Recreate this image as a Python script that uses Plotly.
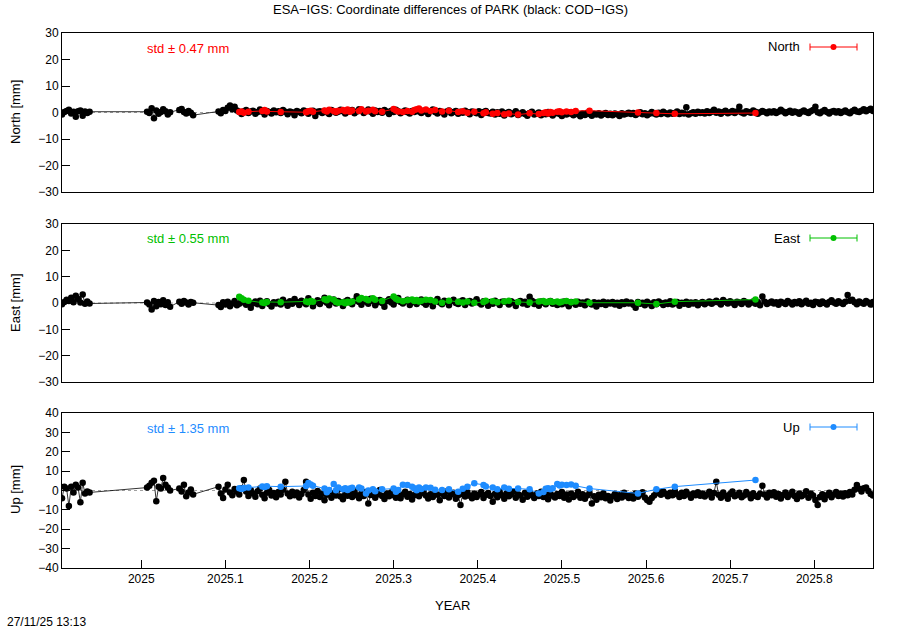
import plotly.graph_objects as go

# ---------------- data ----------------
# day-of-year lists (black: COD-IGS, coloured: ESA-IGS)
BLACK_DOY_2024 = list(range(332, 345))
BLACK_DOY_2025 = list(range(3, 14)) + list(range(17, 24)) + list(range(34, 319))
COLOR_DOY_2025 = [43, 44, 45, 47, 53, 54, 55, 61, 72, 73, 74, 75, 80, 81, 82, 84, 85, 86, 88, 89,
                  90, 91, 92, 95, 96, 98, 99, 101, 102, 105, 110, 111, 112, 114, 116, 118, 119, 120,
                  121, 122, 124, 126, 128, 131, 134, 138, 140, 142, 145, 149, 150, 153, 155, 158,
                  160, 164, 169, 173, 175, 176, 177, 178, 179, 181, 182, 183, 185, 187, 189, 195,
                  216, 224, 232, 267]

# ---- North, black ----
north_A = [-0.8, 0.2, 0.6, 1.0, -0.4, 0.3, -1.6, 0.5, 0.8, -1.2, 0.4, -0.2, 0.3]
north_B1 = [0.3, -0.2, 1.6, -2.2, 0.8, -0.5, 0.2, 1.2, 0.5, -0.8, 0.1]
north_B2 = [0.9, 1.3, 0.2, -0.4, 0.6, -0.1, -1.0]
north_feb = [0.4, -0.3, 0.9, 0.6, 1.8, 2.6, 1.2, 2.2, 0.8, 0.3, -0.6, 0.5, 0.9, -0.2, 0.4, 0.7, -0.5, 0.2, 1.1, 0.3, -0.8, 0.6, 0.2, -0.4, 0.8, 0.1]
north_mar = [0.5, -0.2, 0.9, 0.3, -0.7, 0.4, 0.1, -1.0, 0.6, 0.2, -0.3, 0.8, 0.4, -0.5, 0.2, 0.7, -1.3, 0.3, 0.5, -0.2, 0.6, 0.1, -0.6, 0.9, 0.4, -0.1, 0.3, 1.0, 0.5, -0.4, 0.2]
north_apr = [0.6, 0.9, -0.3, 0.4, 1.2, 0.7, -0.2, 0.5, 1.1, 0.3, -0.5, 0.8, 0.2, 0.6, -0.1, 0.9, 0.4, -0.6, 0.7, 0.2, 1.0, 0.5, -0.3, 0.3, 0.8, 0.1, -0.4, 0.6, 0.2, 0.9]
north_may = [0.4, -0.2, 0.7, 0.3, -0.6, 0.5, 1.1, 0.2, -0.4, 0.6, 0.1, -0.8, 0.4, 0.8, -0.3, 0.2, 0.6, -0.5, 0.3, -0.1, 0.7, 0.2, -0.7, 0.4, 0.1, -0.3, 0.5, -0.9, 0.2, 0.6, -0.2]
north_jun = [-0.4, 0.3, -0.8, 0.1, -0.5, 0.4, -1.1, -0.2, 0.2, -0.7, -0.3, 0.5, -0.9, -0.4, 0.1, -0.6, -1.2, -0.2, 0.3, -0.8, -0.5, 0.0, -1.0, -0.3, -0.7, 0.2, -0.5, -1.1, -0.4, -0.1]
north_jul = [-0.6, -1.3, -0.3, -0.8, 0.1, -0.5, -1.0, -0.2, -0.7, -1.4, -0.4, -0.9, -0.1, -0.6, -1.2, -0.5, -0.8, -0.3, -1.1, -0.6, -0.2, -0.9, -0.5, -1.0, -0.4, -0.7, -1.3, -0.3, -0.8, -0.5, -0.1]
north_aug = [-0.6, -0.2, -0.9, -0.4, 0.1, -0.7, -0.3, -1.0, -0.5, 0.2, -0.4, -0.8, -0.1, -0.6, 0.3, -0.3, -0.7, 0.0, -0.5, -0.2, 0.4, -0.6, -0.1, -0.4, 2.0, -0.8, -0.3, 0.1, -0.5, 0.3, -0.2]
north_sep = [0.1, -0.4, 0.5, -0.2, 0.3, 1.0, -0.1, 0.4, -0.5, 0.2, 0.7, -0.3, 0.1, 0.6, -0.2, 0.4, 2.2, 0.0, -0.4, 0.5, 0.2, -0.1, 0.8, 0.3, -0.5, 0.1, 0.6, 0.2, -0.3, 0.4]
north_oct = [0.0, 0.5, -0.2, 0.3, 1.0, 0.4, -0.3, 0.2, 0.7, -0.1, 0.4, 0.1, -0.5, 0.3, 0.8, 0.2, -0.2, 0.5, 0.9, 2.2, 0.1, -0.3, 0.4, 0.9, 0.2, -0.4, 0.3, 0.6, 0.0, 0.5, -0.2]
north_nov = [0.3, 0.8, 0.1, -0.3, 0.5, 1.0, 0.4, 0.2, 0.7, 1.2, 0.5, 0.9, 1.4, 0.6]

# ---- East, black ----
east_A = [-0.5, 0.4, 1.2, 0.8, 2.0, 0.3, 2.8, 1.5, 0.2, 3.2, -0.3, 0.6, -0.2]
east_B1 = [0.2, -0.6, -2.5, 0.8, -1.2, 0.4, -0.5, 1.0, -0.8, 0.3, -1.4]
east_B2 = [0.5, -0.3, 0.8, 0.2, -0.6, 0.4, 0.1]
east_feb = [-0.8, -1.5, 0.3, -0.6, 0.5, -1.2, -0.2, 0.8, -0.9, -0.3, 1.0, 0.2, -0.7, 0.4, -1.8, -0.1, 0.6, -0.5, 0.9, -1.1, 0.1, 0.7, -0.4, -1.3, 0.3, -0.2]
east_mar = [0.5, -0.6, 1.2, 0.1, -1.0, 0.7, -0.3, 1.5, 0.4, -0.8, 0.9, 0.2, -0.5, 1.8, 0.6, -1.2, 0.3, 1.0, -0.4, 0.7, 2.0, 0.1, -0.9, 0.5, 1.3, -0.2, 0.8, 0.3, -1.1, 0.6, 1.1]
east_apr = [0.2, -0.5, 0.9, 2.6, 0.4, -0.7, 1.2, 0.5, -0.3, 1.6, 0.8, -0.9, 0.3, 1.1, 0.0, -1.4, 0.7, 1.4, 0.2, -0.6, 0.9, 1.9, 0.4, -0.2, 0.6, 1.2, -0.8, 0.3, 0.8, -0.4]
east_may = [0.5, 1.3, 0.1, -0.7, 0.8, 0.3, -1.2, 0.6, 1.5, 0.2, -0.5, 0.9, 0.4, -0.9, 0.7, 1.2, 0.0, -0.4, 0.6, 1.0, -0.8, 0.3, 0.8, -0.2, 0.5, 1.4, 0.1, -0.6, 0.7, 0.2, -1.0]
east_jun = [0.4, -0.3, 0.9, 0.2, -0.8, 0.5, 0.6, 0.3, -0.6, 0.7, 0.1, -1.1, 0.4, 0.8, -0.2, 0.5, -0.7, 2.4, 0.9, -0.4, 0.3, -1.0, 0.6, 0.1, -0.5, 0.4, 0.8, -0.3, 0.2, -0.8]
east_jul = [0.3, -0.5, 0.6, -0.2, -1.2, 0.4, 0.0, -0.7, 0.5, -0.3, 0.2, -0.9, 0.6, -0.1, -0.6, 0.3, -1.3, 0.1, -0.4, 0.5, -0.8, 0.2, -0.2, 0.4, -0.6, 0.1, -1.0, 0.3, -0.4, 0.6, -0.2]
east_aug = [0.2, -0.7, -1.8, 0.4, -0.3, 0.1, -0.9, 0.5, -0.2, -1.1, 0.3, -0.5, 0.6, 0.0, -0.8, 0.2, -0.4, 0.7, -0.6, -0.1, 0.4, -1.0, 0.1, -0.3, 0.5, -0.7, 0.2, -0.2, 0.3, -0.9, 0.0]
east_sep = [0.4, -0.5, 0.1, 0.6, -0.3, 0.3, 0.9, 0.2, -0.6, 1.1, 0.4, -0.2, 0.7, 0.1, -0.8, 0.5, 0.2, -0.4, 0.8, 0.3, -0.6, 0.1, 0.6, -0.3, 0.4, -0.9, 2.5, 0.5, -0.4, 0.1]
east_oct = [0.6, -0.2, 0.3, -0.7, 0.5, 0.1, -0.4, 0.8, 0.2, -0.6, 0.4, -0.1, 0.7, -0.5, 0.2, 0.9, -0.3, 0.1, -0.8, 0.5, 0.3, -0.4, 0.6, 0.0, -0.6, 0.4, 1.0, 0.2, -0.3, 0.7, 0.1]
east_nov = [-0.4, 0.5, 3.0, 0.9, 1.2, 0.3, -0.5, 0.6, 0.1, -0.3, 0.8, 0.2, -0.6, 0.4]

# ---- Up, black ----
up_A = [-4.0, 2.0, 1.0, -8.0, 2.0, -1.0, 3.0, 1.5, -6.0, 4.0, -1.5, -0.5, -1.0]
up_B1 = [1.5, 2.5, 4.0, 5.0, -5.5, 2.0, 1.0, 6.5, 3.0, 1.5, 0.0]
up_B2 = [1.0, -0.5, 3.0, -3.0, -1.0, 0.5, -2.0]
up_feb = [2.0, -1.5, -3.9, 0.5, 3.0, -1.0, -2.4, 0.8, -0.6, -2.0, 1.2, 5.4, -0.5, -2.8, 0.3, -1.6, -3.2, -0.4, 1.0, -2.2, -4.0, -1.1, 0.2, -2.6, -1.3, -3.5]
up_mar = [-0.8, -2.1, 0.4, 4.5, -1.5, -3.0, -0.6, -2.4, -1.0, -3.6, -1.8, 0.2, 4.5, -2.0, -4.2, -1.2, -2.8, -0.3, -3.3, -1.7, -5.0, -2.2, -0.7, -3.8, -1.4, -2.6, 0.5, -3.1, -4.5, -1.9, -2.7]
up_apr = [-1.2, -3.4, -0.4, -2.5, -4.0, -1.6, -2.9, -0.8, -6.7, -2.3, -1.0, -3.7, -2.0, 0.3, -2.8, -4.4, -1.5, -3.0, -0.9, -2.4, -3.8, -1.3, -4.0, -2.1, -0.6, -3.2, -1.8, -4.6, -2.5, -1.1]
up_may = [-3.0, -1.4, -0.2, -2.6, -4.1, -1.9, -3.3, -0.7, -2.2, -5.0, -1.6, -2.9, -0.5, -3.6, -2.0, -1.2, -4.3, -2.4, -7.5, -1.8, -3.1, -0.9, -2.7, -4.0, -1.5, -3.4, -2.1, -0.8, -3.9, -2.3, -1.3]
up_jun = [-2.8, -5.8, -1.7, -3.5, -0.6, -2.5, -4.2, -1.4, -3.0, -2.0, -0.4, -3.7, -1.9, -2.6, -4.8, -1.2, -3.2, -0.9, -2.4, -3.9, -1.6, -2.9, -0.7, -3.4, -2.2, -4.5, -1.5, -2.7, -3.6, -1.8]
up_jul = [-2.9, -0.8, -3.8, -2.1, -4.6, -1.5, -3.3, -2.4, -0.6, -3.7, -1.9, -4.2, -2.6, -1.3, -6.7, -3.0, -4.8, -2.2, -3.5, -1.4, -4.0, -2.8, -5.2, -3.1, -1.8, -4.4, -2.5, -3.6, -1.2, -2.9, -3.9]
up_aug = [-2.3, -4.1, -1.6, -3.2, -2.0, -0.9, -3.6, -4.9, -5.8, -3.9, -2.6, -1.4, -0.8, -2.2, -0.5, -1.7, -3.0, -1.1, -2.5, -0.3, -1.9, -3.4, -1.2, -2.8, -0.6, -2.1, -3.7, -1.5, -2.4, -0.9, -2.7]
up_sep = [-1.6, -3.1, -2.0, -0.7, -3.6, -1.3, 4.5, -2.2, -3.8, -1.0, -2.7, -4.2, -1.8, -0.5, -3.0, -2.3, -1.1, -3.5, -2.6, -0.8, -2.0, -4.0, -1.4, -2.9, -3.3, -1.7, 2.5, -2.1, -3.6, -1.2]
up_oct = [-2.5, -0.9, -3.2, -1.8, -4.1, -2.3, -1.0, -3.4, -2.0, -0.6, -2.8, -4.4, -1.5, -3.0, -2.2, -0.4, -3.7, -1.6, -2.6, -4.9, -7.5, -3.3, -1.9, -4.5, -2.4, -1.2, -3.5, -2.0, -0.8, -2.9, -1.6]
up_nov = [-3.1, -1.4, -2.5, -0.8, -2.0, 0.4, 2.8, 0.9, -0.5, 1.2, 1.5, -0.3, -1.8, -2.6]

# ---- coloured (ESA-IGS) ----
north_esa = [0.2, 0.4, -0.1, 0.3, 0.6, 0.9, 0.4, 0.2, 0.1, 0.5, 0.7, 0.3, 0.8, 0.4, 1.0, 0.6, 0.2, 0.7,
             0.9, 0.5, 1.1, 0.3, 0.8, 0.6, 1.2, 0.4, 0.7, 1.0, 0.5, 0.3, 1.3, 0.8, 0.4, 0.2, 0.6, 0.3,
             0.9, 1.2, 1.5, 0.8, 1.1, 0.6, 0.9, 0.4, 0.7, 0.2, 0.5, -0.1, 0.3, -0.3, 0.1, -0.5, -0.2,
             -0.7, -0.4, -0.8, -0.3, -0.6, -0.2, 0.1, -0.4, 0.2, -0.1, 0.3, 0.5, 0.1, 0.4, 0.2, 0.6,
             0.7, 0.0, -0.2, -0.5, -0.2]
east_esa = [2.4, 1.8, 1.2, 0.9, 0.2, 0.0, 0.4, 0.3, 0.6, 0.3, 0.8, 0.5, 1.4, 1.0, 1.7, 1.2, 0.4, 0.1,
            0.3, -0.1, 0.5, 0.2, 0.6, 1.3, 1.9, 1.5, 1.0, 1.8, 1.2, 0.8, 2.5, 1.6, 1.1, 0.7, 1.0, 1.3,
            0.8, 1.1, 0.6, 0.9, 1.2, 1.1, 0.6, 0.1, 0.9, 0.5, 0.2, 0.6, 0.1, 0.4, 0.9, 0.7, 0.3, 0.6,
            0.9, 0.4, 0.2, 0.6, 0.8, 0.3, 0.5, 0.7, 0.4, 0.6, 0.2, 0.5, 0.8, 0.3, 0.6, 0.1, 0.1,
            -0.4, 0.5, 1.3]
up_esa = [1.1, 0.8, 1.3, 1.5, 2.1, 1.8, 2.2, 2.0, 2.3, 3.9, 3.1, 2.5, 1.0, -0.9, 0.2, 3.3, 0.1, 1.5,
          0.6, 1.2, 0.3, 1.0, 1.4, 1.6, 1.0, -1.5, 0.0, 0.6, -0.4, 0.6, 1.0, -0.6, 0.3, 3.0, 2.8, 2.0,
          1.2, 0.1, 1.5, 0.8, 1.6, 1.4, 0.4, 0.2, 0.6, -0.7, 0.9, 2.0, 3.7, 2.9, 2.1, 1.6, 0.6, 1.5,
          0.9, 1.0, 0.6, -1.6, -0.8, 0.9, 1.2, 0.7, 1.1, 3.3, 2.6, 3.0, 2.8, 3.1, 2.4, 1.0, -1.5,
          0.6, 2.0, 5.4]

STD_TEXT = ["std \u00b1 0.47 mm", "std \u00b1 0.55 mm", "std \u00b1 1.35 mm"]
COMPONENTS = ["North", "East", "Up"]
Y_TICKS = [[-30, -20, -10, 0, 10, 20, 30], [-30, -20, -10, 0, 10, 20, 30],
           [-40, -30, -20, -10, 0, 10, 20, 30, 40]]
X_TICKS = [2025.0, 2025.1, 2025.2, 2025.3, 2025.4, 2025.5, 2025.6, 2025.7, 2025.8]
X_TICK_TEXT = ["2025", "2025.1", "2025.2", "2025.3", "2025.4", "2025.5", "2025.6", "2025.7", "2025.8"]

# ---------------- assemble ----------------
def decyear(year, doy):
    n = 366 if year % 4 == 0 else 365
    return year + (doy - 0.5) / n

x_black = [decyear(2024, d) for d in BLACK_DOY_2024] + [decyear(2025, d) for d in BLACK_DOY_2025]
x_esa = [decyear(2025, d) for d in COLOR_DOY_2025]

def cat(*parts):
    out = []
    for p in parts:
        out += p
    return out

months = ["feb", "mar", "apr", "may", "jun", "jul", "aug", "sep", "oct", "nov"]
g = globals()
black = {}
for comp in ["north", "east", "up"]:
    black[comp] = cat(g[comp + "_A"], g[comp + "_B1"], g[comp + "_B2"], *[g[comp + "_" + m] for m in months])
    assert len(black[comp]) == len(x_black), (comp, len(black[comp]), len(x_black))
esa = {"north": north_esa, "east": east_esa, "up": up_esa}
for k, v in esa.items():
    assert len(v) == len(x_esa), (k, len(v), len(x_esa))

COLORS = ["#ff0000", "#00c000", "#1e8cff"]

# pixel geometry helpers (plot area 62..873 x 33..568)
L, R, T, B = 62, 873, 33, 568
def px(p):
    return (p - L) / (R - L)
def py(p):
    return (B - p) / (B - T)

domains = [[py(192), py(33)], [py(382), py(224)], [py(568), py(413)]]
yranges = [[-30, 30], [-30, 30], [-40, 40]]

fig = go.Figure()
keys = ["north", "east", "up"]
for i, k in enumerate(keys):
    xa = "x" if i == 0 else f"x{i+1}"
    ya = "y" if i == 0 else f"y{i+1}"
    fig.add_trace(go.Scatter(x=x_black, y=black[k], mode="lines+markers", xaxis=xa, yaxis=ya,
                             line=dict(color="black", width=0.8),
                             marker=dict(color="black", size=6.5), showlegend=False, hoverinfo="skip"))
    fig.add_trace(go.Scatter(x=x_esa, y=esa[k], mode="lines+markers", xaxis=xa, yaxis=ya,
                             line=dict(color=COLORS[i], width=1),
                             marker=dict(color=COLORS[i], size=6.5), showlegend=False, hoverinfo="skip"))

xrange = [min(x_black), max(x_black)]
font = "Liberation Sans, Arial, Helvetica, sans-serif"
axis_common = dict(showline=True, linecolor="black", linewidth=1, mirror=True, ticks="inside",
                   ticklen=8, tickcolor="black", showgrid=False, zeroline=False,
                   tickfont=dict(size=12, color="black", family=font))
layout = dict(width=900, height=630, margin=dict(l=L, r=900 - R, t=T, b=630 - B),
              plot_bgcolor="white", paper_bgcolor="white", showlegend=False,
              font=dict(family=font, color="black"))
for i in range(3):
    xn = "xaxis" if i == 0 else f"xaxis{i+1}"
    yn = "yaxis" if i == 0 else f"yaxis{i+1}"
    ya = "y" if i == 0 else f"y{i+1}"
    xa = "x" if i == 0 else f"x{i+1}"
    layout[xn] = dict(axis_common, domain=[0, 1], anchor=ya, range=xrange, tickvals=X_TICKS,
                      ticktext=X_TICK_TEXT, showticklabels=(i == 2),
                      ticks="inside" if i == 2 else "")
    layout[yn] = dict(axis_common, domain=domains[i], anchor=xa, range=yranges[i],
                      tickvals=Y_TICKS[i],
                      ticktext=[("\u2212" + str(-v)) if v < 0 else str(v) for v in Y_TICKS[i]])
fig.update_layout(**layout)

shapes = []
annotations = []
legend_rows = [47, 238, 427]
for i in range(3):
    ya = "y" if i == 0 else f"y{i+1}"
    # dotted zero line
    shapes.append(dict(type="line", xref="paper", yref=ya, x0=0, x1=1, y0=0, y1=0,
                       line=dict(color="#a0a0a0", width=1, dash="dot"), layer="below"))
    yr = legend_rows[i]
    c = COLORS[i]
    shapes.append(dict(type="line", xref="paper", yref="paper", x0=px(810), x1=px(857),
                       y0=py(yr), y1=py(yr), line=dict(color=c, width=1)))
    for xe in (810, 857):
        shapes.append(dict(type="line", xref="paper", yref="paper", x0=px(xe), x1=px(xe),
                           y0=py(yr - 3.5), y1=py(yr + 3.5), line=dict(color=c, width=1)))
    shapes.append(dict(type="circle", xref="paper", yref="paper", x0=px(830.5), x1=px(836.5),
                       y0=py(yr + 3), y1=py(yr - 3), line=dict(color=c, width=0), fillcolor=c))
    annotations.append(dict(text=COMPONENTS[i], xref="paper", yref="paper", x=px(802), y=py(yr),
                            xanchor="right", yanchor="middle", showarrow=False,
                            font=dict(size=13, color="black", family=font)))
    annotations.append(dict(text=STD_TEXT[i], xref="paper", yref="paper", x=px(145), y=py(yr + 1),
                            xanchor="left", yanchor="middle", showarrow=False,
                            font=dict(size=13, color=c, family=font)))
    ymid = [112, 303, 490][i]
    annotations.append(dict(text=f"{COMPONENTS[i]} [mm]", xref="paper", yref="paper", x=px(15),
                            y=py(ymid), xanchor="center", yanchor="middle", textangle=-90,
                            showarrow=False, font=dict(size=13, color="black", family=font)))

annotations.append(dict(text="ESA\u2212IGS: Coordinate differences of PARK (black: COD\u2212IGS)",
                        xref="paper", yref="paper", x=px(450), y=py(10), xanchor="center",
                        yanchor="middle", showarrow=False, font=dict(size=13, color="black", family=font)))
annotations.append(dict(text="YEAR", xref="paper", yref="paper", x=px(452), y=py(605),
                        xanchor="center", yanchor="middle", showarrow=False,
                        font=dict(size=13, color="black", family=font)))
annotations.append(dict(text="27/11/25 13:13", xref="paper", yref="paper", x=px(5), y=py(622),
                        xanchor="left", yanchor="middle", showarrow=False,
                        font=dict(size=12, color="black", family=font)))
fig.update_layout(shapes=shapes, annotations=annotations)

fig.write_html("out.html", config={"displayModeBar": False},
               post_script="document.body.style.margin='0px';")
